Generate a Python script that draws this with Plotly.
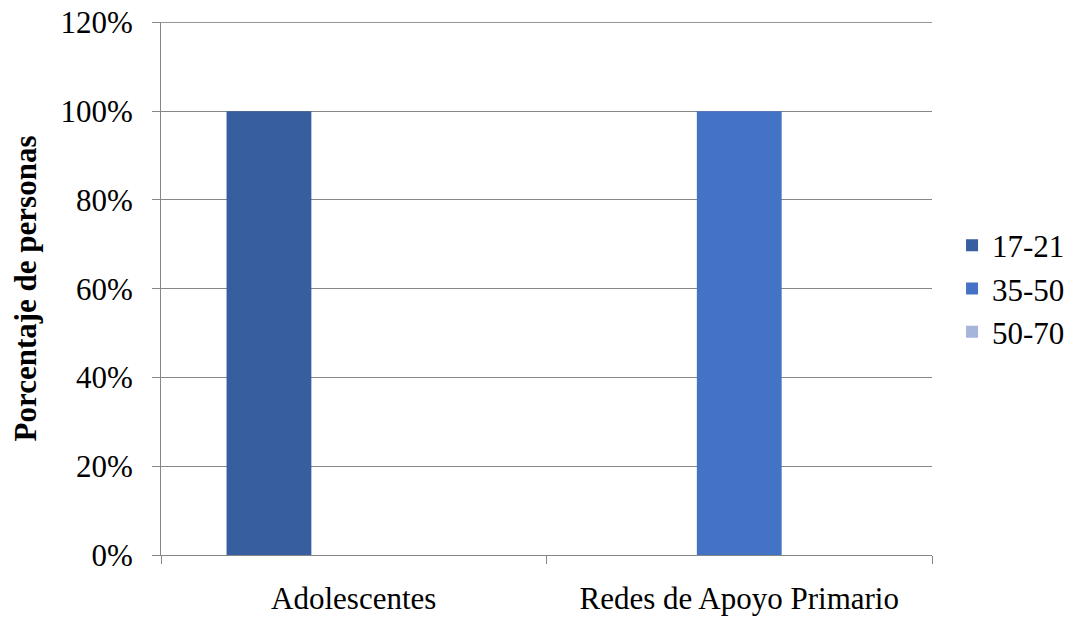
import plotly.graph_objects as go

categories = ["Adolescentes", "Redes de Apoyo Primario"]
series_names = ["17-21", "35-50", "50-70"]
values_17_21 = [1.00, 0.00]
values_35_50 = [0.00, 1.00]
values_50_70 = [0.00, 0.00]
series_values = [values_17_21, values_35_50, values_50_70]
colors = ["#375E9F", "#4472C4", "#A5B5DC"]
y_tick_vals = [0, 0.2, 0.4, 0.6, 0.8, 1.0, 1.2]
y_tick_text = ["0%", "20%", "40%", "60%", "80%", "100%", "120%"]

FONT = "Liberation Serif"
GRID = "#868686"

fig = go.Figure()
for name, vals, col in zip(series_names, series_values, colors):
    fig.add_trace(go.Bar(x=categories, y=vals, name=name, marker=dict(color=col, line=dict(width=0))))

# top gridline (plotly omits the gridline that lies on the range edge)
fig.add_shape(type="line", xref="paper", yref="y", x0=0, x1=1,
              y0=y_tick_vals[-1], y1=y_tick_vals[-1], line=dict(color=GRID, width=1), layer="below")

fig.update_layout(
    width=1067, height=612,
    margin=dict(l=153, r=143, t=14, b=65, autoexpand=False),
    paper_bgcolor="white", plot_bgcolor="white",
    barmode="group", bargap=0.34, bargroupgap=0,
    font=dict(family=FONT, size=31, color="black"),
    showlegend=True,
    legend=dict(x=1.026, y=0.5, xanchor="left", yanchor="middle",
                font=dict(family=FONT, size=31, color="black"),
                bgcolor="rgba(0,0,0,0)", itemwidth=30, tracegroupgap=0),
)
fig.update_xaxes(
    type="category", tickson="boundaries", ticks="outside", ticklen=8, tickcolor=GRID, tickwidth=1,
    showline=True, linecolor=GRID, linewidth=1, showgrid=False, automargin=False,
    tickfont=dict(family=FONT, size=31), ticklabelstandoff=16,
)
fig.update_yaxes(
    range=[0, 1.2008], tickvals=y_tick_vals, ticktext=y_tick_text,
    ticks="outside", ticklen=8, tickcolor=GRID, tickwidth=1,
    showline=True, linecolor=GRID, linewidth=1, automargin=False,
    showgrid=True, gridcolor=GRID, gridwidth=1, zeroline=False,
    tickfont=dict(family=FONT, size=31), ticklabelstandoff=13, ticklabeloverflow="allow",
    title=dict(text="<b>Porcentaje de personas</b>", font=dict(family=FONT, size=31), standoff=26),
)
fig.write_html("out.html")
